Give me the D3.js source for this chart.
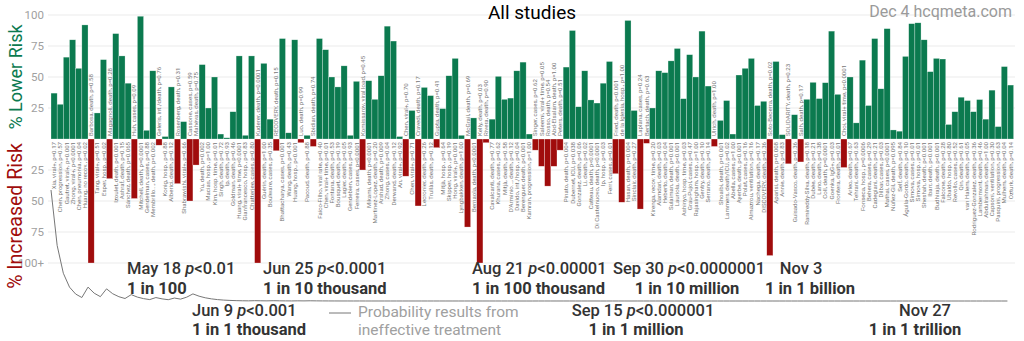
<!DOCTYPE html>
<html><head><meta charset="utf-8">
<script src="https://cdn.jsdelivr.net/npm/d3@7"></script>
<style>
html,body{margin:0;padding:0;background:#fff;}
svg{display:block;font-family:Roboto,"Noto Sans",sans-serif;}
</style></head>
<body>
<svg id="chart" width="1024" height="341"></svg>
<script>
const studies = [
"Xia, viral+, p=0.17","Chen, progression, p=0.57","Gautret, viral+, p=0.001","Zhong, viral+, p<0.0001","Chen, pneumonia, p=0.04","Huang, no recov., p=0.02","Barbosa, death, p=0.58","Tang, viral+, p=0.51","Esper, hosp., p=0.02","Magagnoli, death, p=0.28",
"Izoulet, death, p<0.001","Ashraf, death, p=0.15","Sánchez, death, p=0.065","Huh, cases, p=0.09","Mitchell, death, p=0.0001","Gendelman, cases, p=0.88","Membrillo..., death, p=0.002","Geleris, int./death, p=0.76","Konig, hosp., p=0.88","Alberici, death, p=0.12",
"Rosenberg, death, p=0.31","Shabrawishi, viral+, p=0.66","Cassone, cases, p=0.59","Mahévas, death, p=0.75","Yu, death, p=0.002","Macias, hosp., p=1.00","Kim, hosp. time, p=0.01","Singh, death, p=0.72","Ip, death, p=0.93","Goldman, death, p=0.46",
"Huang, viral+ time, p<0.0001","Gianfrancesco, hosp., p=0.83","Chatterjee, cases, p=0.80","Kuderer, death, p=0.0001","Guérin, death, p=1.00","Boulware, cases, p=0.35","RECOVERY, death, p=0.15","Bhattacharya, cases, p=0.001","Wang, death, p=0.43","Huang, hosp., p<0.001",
"Luo, death, p=0.99","Pacoud, death, p=0.88","Sbidian, death, p=0.74","Faíco-Filho, viral rate, p=0.40","Chen, viral+ time, p=0.01","Fontana, death, p=0.53","Bousquet, death, p=0.19","Lagier, death, p=0.05","Gendebien, cases, p=0.93","Ferreira, cases, p<0.0001",
"Komissarov, viral load, p=0.45","Mikami, death, p<0.0001","Martinez-Lopez, death, p=0.20","Arshad, death, p=0.009","Zhong, cases, p=0.04","Derwand, death, p=0.12","An, viral+, p=0.92","Chen, viral+, p=0.70","Chen, viral+, p=0.71","Cravedi, death, p=0.17",
"Lecronier, death, p=0.26","Trullàs, death, p=0.12","Gupta, death, p=0.41","Mitjà, hosp., p=0.64","Skipper, hosp., p=0.19","Hong, viral+, p=0.001","Lyngbakken, death, p=1.00","McGrail, death, p=0.69","Bernaola, death, p<0.0001","Kelly, death, p=0.03",
"Rivera, death, p=0.90","Cavalcanti, death, p=0.77","Khurana, cases, p=0.62","Mitjà, death, p=0.58","D'Arminio..., death, p=0.12","Davido, int./hosp., p=0.04","Berenguer, death, p<0.001","Kamran, progression, p=1.00","Singer, cases, p=0.62","Saleemi, viral+ time, p=0.05",
"Rosso, death, p=0.54","Abd-Elsalam, death, p=1.00","Peters, death, p=0.51","Pinato, death, p=0.004","Dubernet, ICU, p=0.038","Gonzalez, death, p=0.06","Li, death, p=0.02","Catteau, death, p<0.0001","Di Castelnuovo, death, p<0.0001","Ip, hosp., p=0.03",
"Ferri, cases, p=0.01","Fried, death, p<0.001","de la Iglesia, hosp., p=1.00","Hasan, death, p=0.004","Sinclair, death, p=0.27","Laplana, cases, p=0.24","Bertach, death, p=0.63","Kirenga, recov. time, p=0.20","Alamdari, death, p=0.03","Heberto, death, p=0.04",
"Sulaiman, death, p=0.001","Lauriola, death, p<0.001","Ashinyo, hosp. time, p=0.03","Grau-Pujol, cases, p=0.47","Rajasingham, hosp., p=1.00","Gentry, death, p=0.10","Serrano, death, p=0.14","Ulrich, death, p=1.00","Shoaibi, death, p=0.001","Lammers, death/ICU, p=0.02",
"Abella, cases, p=1.00","Ayerbe, death, p<0.001","Polat, cases, p=0.16","Almazrou, ventilation, p=0.16","Nachega, death, p=0.17","DISCOVERY, death, p=0.36","Soto-Becerra, death, p=0.02","Aparisi, death, p=0.008","Annie, death, p=0.83","SOLIDARITY, death, p=0.23",
"Guisado-Vasco, death, p=0.36","Salh, death, p=0.17","Ramireddy-Silva, death, p=0.18","Dubée, death, p=0.21","Lano, death, p=0.38","Coll, death, p=0.0001","Goenka, IgG+, p=0.03","Frontera, death, p=0.01","Choi, viral+ time, p<0.0001","Arleo, death, p=0.67",
"Tehrani, death, p=0.63","Fonseca, hosp., p=0.0006","Behera, cases, p=0.29","Cadegiani, death, p=0.21","Dilbar, cases, p=0.03","Mathai, cases, p<0.0001","Núñez-Gil, death, p=0.095","Self, death, p=0.84","Águila-Gordo, death, p=0.10","Simova, cases, p=0.01",
"Simova, hosp., p=0.01","Sheshah, death, p<0.001","Ibarr, death, p<0.001","Budhiraja, death, p<0.001","Falcone, death, p=0.28","Ubaldo, hosp., p=0.80","Revollo, cases, p=0.52","Qin, death, p=0.61","van Halem, death, p=0.05","Rodriguez-Gonzalez, death, p=0.36",
"Lambermont, death, p=0.46","Abdulrahman, death, p=1.00","Capsoni, ventilation, p=0.30","Pasquini, progression, p=0.63","Mulhem, death, p=0.04","Ozturk, death, p=0.14"
];
// % lower risk (positive) / % increased risk (negative, -100 shown as 100+)
const values = [
37,28,66,80,57,92,-100,21,64,-32,
85,67,45,-48,99,7,55,-5,2,42,
-36,14,-50,-21,60,25,50,4,1,22,
67,3,67,-100,61,16,-9.5,81,5,80,
-3,3,-6,81,72,50,42,59,3,46.5,
-25,47,32,51,91,79,2,-30,23,-54,
41.6,35,-7,24.5,51,65,3,-71,17,-100,
-3,16,50.5,32,33,55,62,4,-9,-22,
-38,-22,-9,58,87.5,26,55,31.5,29,45,
62.5,-28,-51,95.6,23,-56.5,-3.5,25,55,53.5,
63,73,32.5,68,50,87,42.7,-6,15,31,
4,51.6,57,65,27,30.4,-94,62.5,3.5,-20,
19.6,-18.5,32,45.7,32.6,45.4,87,36,-23,50,
13,63.6,27,81,40.5,89,7.3,6.3,66.6,93,
93.7,80,54.3,65,64.5,11.7,22,33.7,31,22,
31.8,16,39.4,10,58.4,43.5
];
const tickValues = [100,75,50,25,-25,-50,-75,-100];
const tickLabels = ["100","75","50","25","25","50","75","100+"];
const annDates = ["May 18","Jun 9","Jun 25","Aug 21","Sep 15","Sep 30","Nov 3","Nov 27"];
const annP = ["<0.01","<0.001","<0.0001","<0.00001","<0.000001","<0.0000001","",""];
const annOdds = ["1 in 100","1 in 1 thousand","1 in 10 thousand","1 in 100 thousand","1 in 1 million","1 in 10 million","1 in 1 billion","1 in 1 trillion"];
const titleText = "All studies";
const sourceText = "Dec 4 hcqmeta.com";
const legendLines = ["Probability results from","ineffective treatment"];

const GREEN = "#0b7a4f", RED = "#a00c0c";
const svg = d3.select("#chart");
const n = values.length;
const x = d3.scaleBand().domain(d3.range(n)).range([51, 1013.6]).padding(0);
const y = d3.scaleLinear().domain([-100, 100]).range([263, 15]);
const y0 = y(0);

// grid
svg.append("g").selectAll("line").data(tickValues).join("line")
  .attr("x1", 48).attr("x2", 1015)
  .attr("y1", d => y(d)).attr("y2", d => y(d))
  .attr("stroke", "#ebebeb").attr("stroke-width", 1);

// y axis labels
const yAxis = d3.axisLeft(y).tickValues(tickValues)
  .tickFormat((d, i) => tickLabels[i]).tickSize(0).tickPadding(0);
const ga = svg.append("g").attr("transform", "translate(44,0)").call(yAxis);
ga.select(".domain").remove();
ga.selectAll("text").attr("fill", "#a0a0a0").attr("font-size", 11.5)
  .attr("font-family", "Roboto, sans-serif");

// bars
svg.append("g").selectAll("rect").data(values).join("rect")
  .attr("x", (d, i) => x(i))
  .attr("width", x.bandwidth())
  .attr("y", d => d >= 0 ? y(d) : y0)
  .attr("height", d => Math.abs(y(d) - y0))
  .attr("fill", d => d >= 0 ? GREEN : RED)
  .attr("stroke", "#ffffff").attr("stroke-opacity", 0.55).attr("stroke-width", 0.5);

// bar labels
svg.append("g").selectAll("text").data(studies).join("text")
  .attr("transform", (d, i) => {
    const cx = x(i) + x.bandwidth() / 2 + 2.1;
    const yy = values[i] >= 0 ? y0 + 3 : y0 - 3;
    return `translate(${cx},${yy}) rotate(-90)`;
  })
  .attr("text-anchor", (d, i) => values[i] >= 0 ? "end" : "start")
  .attr("font-size", 6.1).attr("fill", "#777")
  .text(d => d);

// probability curve (binomial tail: chance of at least k positive of n if ineffective)
function tail(k, m) {
  let pm = Math.pow(0.5, m), c = 1, s = 0;
  for (let i = 0; i <= m; i++) {
    if (i > 0) c = c * (m - i + 1) / i;
    if (i >= k) s += c * pm;
  }
  return s;
}
let pos = 0;
const probs = values.map((v, i) => { if (v > 0) pos++; return tail(pos, i + 1); });
const py = d3.scaleLinear().domain([0, 1]).range([301, 79]);
svg.append("path").datum(probs)
  .attr("d", d3.line().x((d, i) => x(i)).y(d => py(d)))
  .attr("fill", "none").attr("stroke", "#777").attr("stroke-width", 1);

// annotations
const annLayout = [
  {x1: 127, x2: 127, a: "start", r: 0}, {x1: 192, x2: 192, a: "start", r: 1},
  {x1: 263, x2: 263, a: "start", r: 0}, {x1: 472, x2: 472, a: "start", r: 0},
  {x1: 643, x2: 636, a: "middle", r: 1}, {x1: 689, x2: 687, a: "middle", r: 0},
  {x1: 801, x2: 810, a: "middle", r: 0}, {x1: 925, x2: 915, a: "middle", r: 1}
];
const rowY = [[274, 294], [316, 335]];
const ann = svg.append("g").attr("fill", "#333").attr("font-size", 16.5);
annDates.forEach((dt, i) => {
  const L = annLayout[i];
  const t = ann.append("text").attr("x", L.x1).attr("y", rowY[L.r][0])
    .attr("text-anchor", L.a).attr("font-weight", 500);
  t.append("tspan").text(dt);
  if (annP[i]) {
    t.append("tspan").text(" ");
    t.append("tspan").attr("font-style", "italic").text("p");
    t.append("tspan").text(annP[i]);
  }
  ann.append("text").attr("x", L.x2).attr("y", rowY[L.r][1])
    .attr("text-anchor", L.a).attr("font-weight", "bold").text(annOdds[i]);
});

// legend
svg.append("line").attr("x1", 329).attr("x2", 351).attr("y1", 313).attr("y2", 313)
  .attr("stroke", "#777").attr("stroke-width", 1);
svg.append("g").selectAll("text").data(legendLines).join("text")
  .attr("x", 358).attr("y", (d, i) => 317 + i * 18)
  .attr("font-size", 15.5).attr("fill", "#a0a0a0").text(d => d);

// title & source
svg.append("text").attr("x", 532).attr("y", 19).attr("text-anchor", "middle")
  .attr("font-size", 19).attr("fill", "#000").text(titleText);
svg.append("text").attr("x", 1012).attr("y", 17).attr("text-anchor", "end")
  .attr("font-size", 16).attr("fill", "#9a9a9a").text(sourceText);

// axis titles
svg.append("text").attr("transform", `translate(22,${(y(100) + y0) / 2}) rotate(-90)`)
  .attr("text-anchor", "middle").attr("font-size", 18).attr("fill", GREEN)
  .text("% Lower Risk");
svg.append("text").attr("transform", `translate(22,216) rotate(-90)`)
  .attr("text-anchor", "middle").attr("font-size", 19.5).attr("fill", RED)
  .text("% Increased Risk");
</script>
</body></html>
